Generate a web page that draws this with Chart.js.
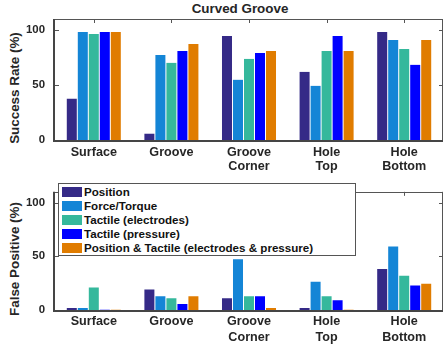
<!DOCTYPE html>
<html>
<head>
<meta charset="utf-8">
<script src="https://cdn.jsdelivr.net/npm/chart.js@4.4.1/dist/chart.umd.min.js"></script>
<style>
  html, body { margin: 0; padding: 0; background: #ffffff; }
  body { width: 443px; height: 347px; overflow: hidden; position: relative;
         font-family: "Liberation Sans", Arial, sans-serif; color: #262626; }
  .panel { position: absolute; left: 0; }
  .title { position: absolute; left: 140px; width: 200px; top: 0; text-align: center;
           font-weight: bold; font-size: 13.4px; line-height: 17px; }
  .ylab { position: absolute; width: 160px; height: 16px; line-height: 16px; text-align: center;
          font-weight: bold; font-size: 13.4px; transform: rotate(-90deg); white-space: nowrap; }
  #legend { position: absolute; left: 58px; top: 183px; width: 296px; height: 71px;
            background: #fff; border: 1px solid #555; }
  #legend .row { position: absolute; left: 3px; height: 14px; line-height: 14px;
                 font-weight: bold; font-size: 11.6px; white-space: nowrap; color: #111; }
  #legend .sw { display: inline-block; width: 20px; height: 10px; vertical-align: -1px; margin-right: 2px; }
</style>
</head>
<body>
<div class="title">Curved Groove</div>
<div class="ylab" style="left:-65px; top:80px;">Success Rate (%)</div>
<div class="ylab" style="left:-65px; top:251px;">False Positive (%)</div>
<div class="panel" style="top:0;"><canvas id="top" width="444" height="175"></canvas></div>
<div class="panel" style="top:175px;"><canvas id="bottom" width="444" height="172"></canvas></div>
<div id="legend"></div>

<script>
// Contact locations along the curved groove
const categories = ['Surface', 'Groove', ['Groove', 'Corner'], ['Hole', 'Top'], ['Hole', 'Bottom']];

const seriesNames = [
  'Position',
  'Force/Torque',
  'Tactile (electrodes)',
  'Tactile (pressure)',
  'Position & Tactile (electrodes & pressure)'
];
const seriesColors = ['#352a87', '#1485d6', '#35b89c', '#0000ff', '#e07c00'];

// Success rate (%)
const successPosition   = [37.5, 5.7, 94.6, 61.9, 98.2];
const successForce      = [98.2, 77.3, 54.7, 49.2, 90.9];
const successElectrodes = [96.4, 70.1, 73.7, 81.0, 82.8];
const successPressure   = [98.2, 81.0, 79.2, 94.6, 68.3];
const successCombined   = [98.2, 87.3, 81.0, 81.0, 90.9];

// False positive (%)
const falsePosition   = [1.8, 19.1, 10.9, 1.8, 38.2];
const falseForce      = [1.8, 12.7, 47.3, 26.4, 59.1];
const falseElectrodes = [20.9, 10.9, 12.7, 12.7, 31.8];
const falsePressure   = [0.3, 5.5, 12.7, 9.1, 22.7];
const falseCombined   = [0.3, 12.7, 1.8, 0.3, 24.5];

const yTickValues = [0, 50, 100];
const yMax = 110;

const FONT = '"Liberation Sans", Arial, sans-serif';
const TEXT = '#262626';

// Box around the plot area with short inward tick marks
const framePlugin = {
  id: 'frame',
  beforeDatasetsDraw(chart) {
    const { ctx, chartArea: a, scales } = chart;
    ctx.save();
    ctx.strokeStyle = '#555';
    ctx.lineWidth = 1;
    ctx.beginPath();
    yTickValues.forEach(v => {
      if (v === 0) return;
      const y = Math.round(scales.y.getPixelForValue(v)) + 0.5;
      ctx.moveTo(a.left, y); ctx.lineTo(a.left + 4, y);
      ctx.moveTo(a.right, y); ctx.lineTo(a.right - 4, y);
    });
    categories.forEach((c, i) => {
      const x = Math.round(scales.x.getPixelForValue(i)) + 0.5;
      ctx.moveTo(x, a.top); ctx.lineTo(x, a.top + 4);
      ctx.moveTo(x, a.bottom); ctx.lineTo(x, a.bottom - 4);
    });
    ctx.stroke();
    ctx.restore();
  },
  afterDatasetsDraw(chart) {
    const { ctx, chartArea: a } = chart;
    ctx.save();
    ctx.strokeStyle = '#555';
    ctx.lineWidth = 1;
    ctx.beginPath();
    ctx.moveTo(a.left, Math.round(a.top) + 0.5);
    ctx.lineTo(a.right, Math.round(a.top) + 0.5);
    ctx.moveTo(Math.round(a.right) - 0.5, a.top);
    ctx.lineTo(Math.round(a.right) - 0.5, a.bottom);
    ctx.stroke();
    ctx.strokeStyle = '#454545';
    ctx.lineWidth = 2;
    ctx.beginPath();
    ctx.moveTo(Math.round(a.left) - 1, a.top);
    ctx.lineTo(Math.round(a.left) - 1, a.bottom + 1);
    ctx.lineTo(a.right, a.bottom + 1);
    ctx.stroke();
    ctx.restore();
  }
};

function makeChart(canvasId, seriesValues, padTop, xHeight, xPad, xLineHeight) {
  const datasets = seriesValues.map((vals, i) => ({
    label: seriesNames[i],
    data: vals,
    backgroundColor: seriesColors[i],
    borderWidth: 0,
    categoryPercentage: 0.709,
    barPercentage: 0.909
  }));
  return new Chart(document.getElementById(canvasId), {
    type: 'bar',
    data: { labels: categories, datasets },
    options: {
      responsive: false,
      animation: false,
      events: [],
      layout: { padding: { top: padTop, left: 0, right: 1, bottom: 0 } },
      plugins: { legend: { display: false }, title: { display: false }, tooltip: { enabled: false } },
      scales: {
        x: {
          grid: { display: false, drawTicks: false },
          border: { display: false },
          ticks: {
            color: TEXT, padding: xPad, maxRotation: 0, autoSkip: false,
            font: { family: FONT, size: 12.6, weight: 'bold', lineHeight: xLineHeight }
          },
          afterFit(scale) { scale.height = xHeight; }
        },
        y: {
          min: 0, max: yMax,
          grid: { display: false, drawTicks: false },
          border: { display: false },
          ticks: {
            color: TEXT, padding: 10,
            font: { family: FONT, size: 11.4, weight: 'bold' }
          },
          afterBuildTicks(scale) { scale.ticks = yTickValues.map(v => ({ value: v })); },
          afterFit(scale) { scale.width = 55; }
        }
      }
    },
    plugins: [framePlugin]
  });
}

const topChart = makeChart('top',
  [successPosition, successForce, successElectrodes, successPressure, successCombined],
  19, 35, 5, 1.13);

makeChart('bottom',
  [falsePosition, falseForce, falseElectrodes, falsePressure, falseCombined],
  14, 37, 3.5, 1.27);

// Legend built from the chart's own datasets
const legend = document.getElementById('legend');
topChart.data.datasets.forEach((ds, i) => {
  const row = document.createElement('div');
  row.className = 'row';
  row.style.top = (1 + i * 14) + 'px';
  const sw = document.createElement('span');
  sw.className = 'sw';
  sw.style.background = ds.backgroundColor;
  row.appendChild(sw);
  row.appendChild(document.createTextNode(ds.label));
  legend.appendChild(row);
});
</script>
</body>
</html>
